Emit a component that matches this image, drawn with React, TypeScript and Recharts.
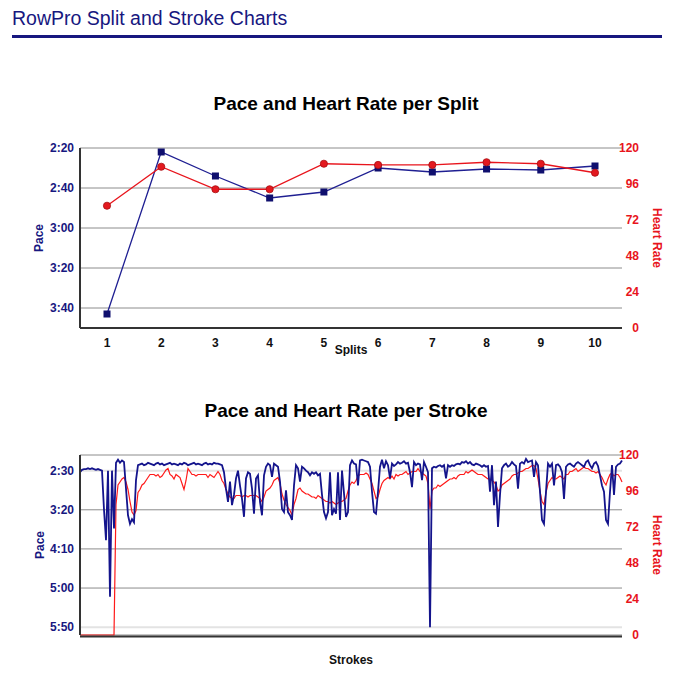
import React from 'react'
import { CartesianGrid, Label, Line, LineChart, XAxis, YAxis } from 'recharts'

const NAVY = '#17177f'
const RED = '#e8141c'
const FONT = '"Liberation Sans", Arial, Helvetica, sans-serif'

// per split
const SPLITS = ['1', '2', '3', '4', '5', '6', '7', '8', '9', '10']
const SPLIT_PACE = [223, 142, 154, 165, 162, 150, 152, 150.5, 151, 149] // seconds / 500m
const SPLIT_HR = [81.5, 107.5, 92.5, 92.5, 109.5, 108.7, 108.7, 110.5, 109.5, 103.5]

const SPLIT_PACE_TICKS = [140, 160, 180, 200, 220]
const STROKE_PACE_TICKS = [150, 200, 250, 300, 350]
const HR_TICKS = [0, 24, 48, 72, 96, 120]

// per stroke (sampled)
const STROKE_PACE = [
  152, 149, 148, 148, 147, 148, 147, 148, 149, 148,
  149, 150, 200, 239, 150, 311, 150, 224, 140, 136,
  140, 137, 139, 173, 207, 218, 212, 216, 162, 143,
  142, 141, 143, 142, 140, 141, 142, 143, 141, 140,
  142, 141, 143, 142, 141, 140, 142, 141, 142, 143,
  141, 142, 140, 141, 143, 142, 141, 140, 142, 141,
  142, 143, 141, 140, 142, 141, 142, 140, 141, 141,
  142, 143, 152, 173, 190, 164, 194, 181, 160, 150,
  169, 186, 209, 160, 152, 154, 173, 205, 160, 156,
  190, 207, 156, 145, 141, 143, 158, 141, 143, 145,
  164, 199, 203, 175, 203, 207, 213, 169, 143, 147,
  164, 145, 147, 150, 152, 156, 152, 154, 152, 156,
  154, 181, 203, 211, 203, 152, 207, 199, 205, 152,
  213, 150, 179, 209, 203, 143, 137, 141, 142, 169,
  137, 136, 137, 138, 139, 145, 177, 203, 205, 177,
  145, 136, 147, 138, 143, 160, 141, 144, 142, 139,
  141, 140, 138, 141, 140, 152, 171, 139, 143, 141,
  142, 162, 139, 145, 152, 350, 147, 145, 146, 144,
  143, 145, 143, 160, 143, 145, 143, 144, 142, 141,
  142, 139, 140, 138, 141, 139, 142, 143, 141, 142,
  143, 145, 143, 145, 144, 177, 143, 194, 164, 222,
  181, 147, 143, 141, 145, 143, 139, 142, 144, 173,
  141, 139, 141, 135, 139, 138, 137, 158, 139, 143,
  177, 213, 218, 177, 141, 145, 141, 169, 143, 142,
  145, 152, 186, 145, 142, 141, 143, 145, 141, 139,
  141, 143, 145, 139, 137, 143, 147, 141, 139, 144,
  156, 169, 177, 213, 218, 177, 143, 181, 145, 142,
  141, 137,
]
const STROKE_HR = [
  0, 0, 0, 0, 0, 0, 0, 0, 0, 0,
  0, 0, 0, 0, 0, 0, 0, 0, 87, 100,
  102, 104, 105, 102, 97, 89, 82, 80, 83, 95,
  97, 100, 101, 103, 105, 107, 107, 107, 106, 107,
  105, 106, 108, 110, 111, 107, 106, 104, 107, 106,
  105, 101, 97, 103, 111, 109, 107, 107, 106, 107,
  107, 107, 107, 107, 105, 107, 106, 105, 107, 109,
  107, 103, 101, 97, 94, 92, 91, 91, 93, 93,
  93, 92, 93, 93, 92, 93, 93, 93, 93, 92,
  91, 89, 92, 96, 97, 98, 100, 103, 104, 105,
  101, 94, 90, 87, 85, 83, 80, 87, 91, 97,
  98, 96, 95, 94, 94, 93, 92, 92, 91, 93,
  92, 91, 90, 89, 89, 88, 89, 88, 87, 88,
  89, 89, 90, 91, 96, 100, 102, 101, 103, 106,
  107, 107, 107, 108, 107, 104, 101, 96, 91, 92,
  97, 101, 103, 104, 105, 104, 106, 104, 107, 106,
  107, 107, 108, 109, 107, 108, 109, 109, 109, 111,
  109, 108, 107, 106, 101, 84, 96, 98, 98, 100,
  99, 100, 101, 102, 103, 104, 104, 105, 104, 106,
  107, 107, 107, 109, 108, 109, 110, 109, 108, 107,
  107, 107, 106, 105, 104, 104, 103, 102, 100, 96,
  97, 100, 101, 102, 103, 104, 106, 107, 107, 108,
  109, 109, 110, 111, 111, 112, 113, 113, 111, 104,
  96, 89, 87, 95, 101, 103, 105, 104, 104, 105,
  106, 105, 104, 107, 107, 109, 109, 110, 111, 109,
  110, 111, 112, 111, 111, 110, 109, 109, 108, 109,
  107, 105, 102, 100, 104, 107, 108, 106, 107, 107,
  105, 102,
]

const splitData = SPLITS.map((s, i) => ({ split: s, pace: SPLIT_PACE[i], hr: SPLIT_HR[i] }))
const strokeData = STROKE_PACE.map((p, i) => ({ n: i + 1, pace: p, hr: STROKE_HR[i] }))

function mmss(v: number) {
  const m = Math.floor(v / 60)
  const s = Math.round(v % 60)
  return `${m}:${String(s).padStart(2, '0')}`
}

const tickFont = { fontSize: 12, fontWeight: 'bold' as const }

function HrTick(props: any) {
  const { x, y, payload } = props
  return (
    <text x={x + 17} y={y} dy="0.35em" textAnchor="end" fill={RED} {...tickFont}>
      {payload.value}
    </text>
  )
}

function vLabel(text: string, color: string, dx: number, angle: number) {
  return (props: any) => {
    const vb = props.viewBox
    const cx = vb.x + dx
    const cy = vb.y + vb.height / 2
    return (
      <text x={cx} y={cy} transform={`rotate(${angle} ${cx} ${cy})`} textAnchor="middle"
            dominantBaseline="central" fill={color} {...tickFont}>
        {text}
      </text>
    )
  }
}

function xLabel(text: string, dy: number) {
  return (props: any) => {
    const vb = props.viewBox
    return (
      <text x={vb.x + vb.width / 2} y={vb.y + dy} textAnchor="middle" fill="#111" {...tickFont}>
        {text}
      </text>
    )
  }
}

function strokeGrid(p: any) {
  const light = p.index === 0 || p.index === 4
  return (
    <line key={p.key ?? `g-${p.index}`} x1={p.x1} y1={p.y1} x2={p.x2} y2={p.y2}
          stroke={light ? '#e3e3e3' : '#8c8c8c'} strokeWidth={light ? 2 : 1} />
  )
}

const squareDot = (p: any) => (
  <rect key={`sq-${p.index}`} x={p.cx - 3.5} y={p.cy - 3.5} width={7} height={7} fill="#0f0f6e" />
)

const title: React.CSSProperties = {
  position: 'absolute', left: 2, width: 688, textAlign: 'center',
  fontSize: 19, lineHeight: '19px', fontWeight: 'bold', color: '#000',
}

export default function App() {
  return (
    <div style={{ position: 'absolute', left: 0, top: 0, width: 688, height: 678, background: '#fff', fontFamily: FONT }}>
      <div style={{ position: 'absolute', left: 12, top: 8, fontSize: 19.5, lineHeight: '20px', color: NAVY }}>
        RowPro Split and Stroke Charts
      </div>
      <div style={{ position: 'absolute', left: 12, top: 35, width: 650, height: 3, background: NAVY }} />

      <div style={{ ...title, top: 94 }}>Pace and Heart Rate per Split</div>
      <div style={{ position: 'absolute', left: 0, top: 130 }}>
        <LineChart width={688} height={226} data={splitData} margin={{ top: 18, right: 0, bottom: 0, left: 0 }}>
          <CartesianGrid yAxisId="pace" vertical={false} stroke="#8c8c8c" />
          <XAxis dataKey="split" height={28} padding={{ left: 27, right: 27 }} interval={0}
                 tickLine={false} tickSize={0} tickMargin={10}
                 axisLine={{ stroke: '#333', strokeWidth: 2 }} tick={{ fill: '#111', ...tickFont }}>
            <Label content={xLabel('Splits', 26)} />
          </XAxis>
          <YAxis yAxisId="pace" domain={[140, 230]} reversed ticks={SPLIT_PACE_TICKS} tickFormatter={mmss}
                 width={80} tickLine={false} tickSize={0} tickMargin={6} allowDataOverflow
                 axisLine={{ stroke: '#333', strokeWidth: 2 }} tick={{ fill: NAVY, ...tickFont }}>
            <Label content={vLabel('Pace', NAVY, 39, -90)} />
          </YAxis>
          <YAxis yAxisId="hr" orientation="right" domain={[0, 120]} ticks={HR_TICKS} width={66}
                 axisLine={false} tickLine={false} tickSize={0} tickMargin={0} tick={HrTick}>
            <Label content={vLabel('Heart Rate', RED, 35, 90)} />
          </YAxis>
          <Line yAxisId="pace" dataKey="pace" type="linear" stroke="#1f1f92" strokeWidth={1.3}
                dot={squareDot} activeDot={false} isAnimationActive={false} />
          <Line yAxisId="hr" dataKey="hr" type="linear" stroke={RED} strokeWidth={1.3}
                dot={{ r: 3.6, fill: '#e3191f', stroke: '#a80c10', strokeWidth: 0.8 }} activeDot={false}
                isAnimationActive={false} />
        </LineChart>
      </div>

      <div style={{ ...title, top: 401 }}>Pace and Heart Rate per Stroke</div>
      <div style={{ position: 'absolute', left: 0, top: 440 }}>
        <LineChart width={688} height={227} data={strokeData} margin={{ top: 15, right: 0, bottom: 0, left: 0 }}>
          <CartesianGrid yAxisId="pace" vertical={false} horizontal={strokeGrid} />
          <XAxis dataKey="n" height={32} tick={false} tickLine={false}
                 axisLine={{ stroke: '#333', strokeWidth: 2, transform: 'translate(0, 1.6)' }}>
            <Label content={xLabel('Strokes', 29)} />
          </XAxis>
          <YAxis yAxisId="pace" domain={[130, 360]} reversed ticks={STROKE_PACE_TICKS} tickFormatter={mmss}
                 width={80} tickLine={false} tickSize={0} tickMargin={6} allowDataOverflow
                 axisLine={{ stroke: '#333', strokeWidth: 2 }} tick={{ fill: NAVY, ...tickFont }}>
            <Label content={vLabel('Pace', NAVY, 40, -90)} />
          </YAxis>
          <YAxis yAxisId="hr" orientation="right" domain={[0, 120]} ticks={HR_TICKS} width={66}
                 axisLine={false} tickLine={false} tickSize={0} tickMargin={0} tick={HrTick}>
            <Label content={vLabel('Heart Rate', RED, 35, 90)} />
          </YAxis>
          <Line yAxisId="hr" dataKey="hr" type="linear" stroke="#ff1a1a" strokeWidth={1.2}
                dot={false} activeDot={false} isAnimationActive={false} />
          <Line yAxisId="pace" dataKey="pace" type="linear" stroke="#14148c" strokeWidth={1.8}
                dot={false} activeDot={false} isAnimationActive={false} />
        </LineChart>
      </div>
    </div>
  )
}
